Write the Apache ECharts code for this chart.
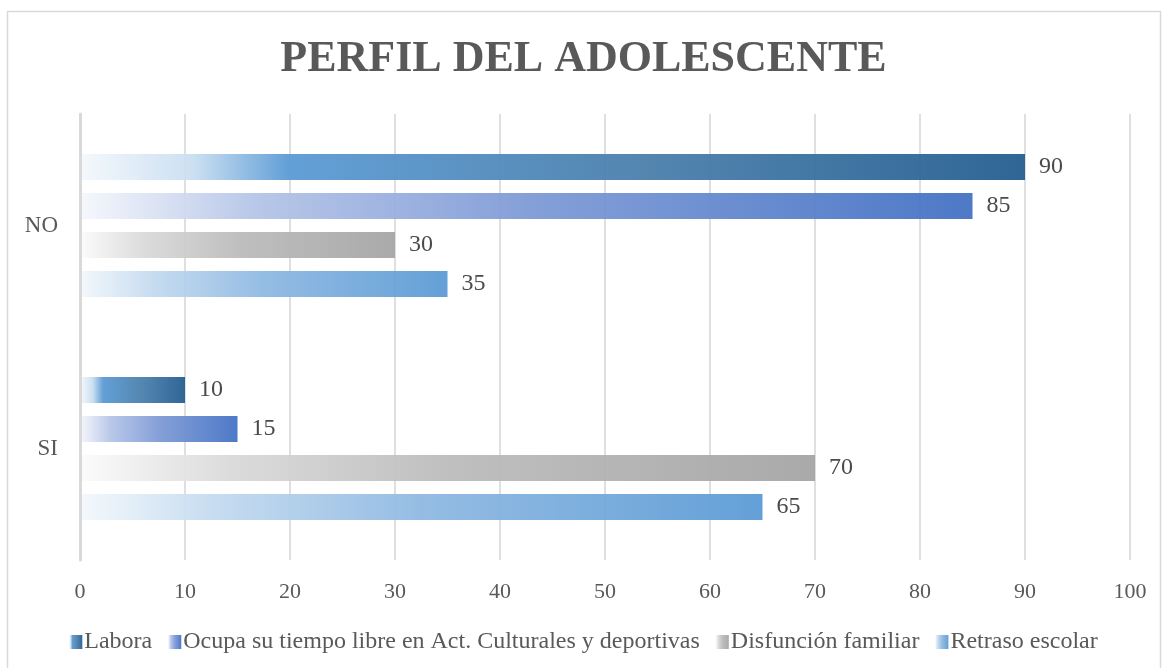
<!DOCTYPE html>
<html>
<head>
<meta charset="utf-8">
<script src="https://cdn.jsdelivr.net/npm/echarts@6/dist/echarts.min.js"></script>
<style>
	html, body { margin: 0; padding: 0; background: #fff; }
	#chart { width: 1167px; height: 668px; }
</style>
</head>
<body>
<div id="chart"></div>
<script>
const categories = ['NO', 'SI'];
const seriesNames = ['Labora', 'Ocupa su tiempo libre en Act. Culturales y deportivas', 'Disfunción familiar', 'Retraso escolar'];
const labora = [90, 10];
const ocupa = [85, 15];
const disfuncion = [30, 70];
const retraso = [35, 65];
const xTicks = [0, 10, 20, 30, 40, 50, 60, 70, 80, 90, 100];

const font = '"Liberation Serif", "Times New Roman", serif';

// gradient stops per series, left (fade) to right (full colour)
const gradients = [
	[[0, '#f4f8fc'], [0.12, '#c9def1'], [0.22, '#5b9bd5'], [0.6, '#4a7fab'], [1, '#255e91']],
	[[0, '#f5f7fc'], [0.2, '#b4c4e7'], [0.5, '#7f9bd6'], [1, '#4472c4']],
	[[0, '#fbfbfb'], [0.2, '#dadada'], [0.5, '#bcbcbc'], [1, '#a5a5a5']],
	[[0, '#f3f8fc'], [0.2, '#c3daef'], [0.5, '#8fb9e2'], [1, '#5b9bd5']],
];

function grad(stops) {
	return new echarts.graphic.LinearGradient(0, 0, 1, 0, stops.map(([offset, color]) => ({ offset, color })));
}

const chart = echarts.init(document.getElementById('chart'), null, { renderer: 'canvas' });

const dataSets = [labora, ocupa, disfuncion, retraso];

chart.setOption({
	animation: false,
	backgroundColor: '#fff',
	title: {
		text: 'PERFIL DEL ADOLESCENTE',
		left: 'center',
		top: 33,
		textStyle: { fontFamily: font, fontSize: 44, fontWeight: 'bold', color: '#595959' },
	},
	graphic: [
		{
			type: 'rect',
			shape: { x: 7.5, y: 11.5, width: 1153, height: 700 },
			style: { fill: 'none', stroke: '#d9d9d9', lineWidth: 1.5 },
			silent: true,
			z: -1,
		},
	],
	legend: {
		bottom: 9,
		left: 'center',
		icon: 'rect',
		itemWidth: 13,
		itemHeight: 14,
		itemGap: 16,
		textStyle: { fontFamily: font, fontSize: 24, color: '#595959', padding: [0, 0, 0, -3] },
		data: seriesNames.map((name, i) => ({ name, itemStyle: { color: grad(gradients[i]) } })),
	},
	grid: { left: 80, right: 37, top: 114, bottom: 108 },
	xAxis: {
		type: 'value',
		min: xTicks[0],
		max: xTicks[xTicks.length - 1],
		interval: 10,
		axisLine: { show: false },
		axisTick: { show: false },
		axisLabel: { fontFamily: font, fontSize: 22, color: '#595959', margin: 21 },
		splitLine: { lineStyle: { color: '#d4d4d4', width: 1.5 } },
	},
	yAxis: {
		type: 'category',
		data: categories,
		inverse: true,
		z: 5,
		axisLine: { show: true, lineStyle: { color: '#d9d9d9', width: 3 } },
		axisTick: { show: false },
		axisLabel: { fontFamily: font, fontSize: 23, color: '#595959', margin: 22 },
	},
	series: seriesNames.map((name, i) => ({
		name,
		type: 'bar',
		data: dataSets[i],
		barWidth: 26,
		barGap: '50%',
		itemStyle: { color: grad(gradients[i]), opacity: 0.95 },
		label: {
			show: true,
			position: 'right',
			distance: 14,
			fontFamily: font,
			fontSize: 24,
			color: '#404040',
		},
	})),
});
</script>
</body>
</html>
